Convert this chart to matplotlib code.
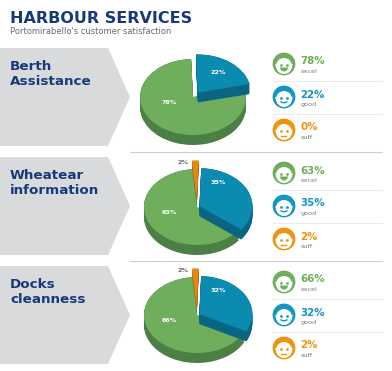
import matplotlib
matplotlib.use('Agg')
import matplotlib.pyplot as plt
from matplotlib.patches import Polygon, Circle, Arc, Wedge

W = 392
H = 371

# dados
topics = ['Berth\nAssistance', 'Wheatear\ninformation', 'Docks\ncleanness']
excel = [78, 63, 66]
good = [22, 35, 32]
suff = [0, 2, 2]
grades = ['excel', 'good', 'suff']

GREEN = '#6fae5c'
GREEN_D = '#4c7f45'
BLUE = '#0b8bb0'
BLUE_D = '#0a6582'
ORANGE = '#e48a12'
ORANGE_D = '#a8660e'
NAVY = '#17397c'
GRAY = '#d9dadc'
FACE_COL = [GREEN, '#1596c0', '#f0930f']
TXT_COL = ['#6fae5c', '#1596c0', '#ef9212']
FONT = 'DejaVu Sans'

fig = plt.figure(figsize=(W/100, H/100), dpi=100, facecolor='white')
bg = fig.add_axes([0, 0, 1, 1])
bg.set_xlim(0, W)
bg.set_ylim(H, 0)
bg.axis('off')

bg.text(10, 18.5, 'HARBOUR SERVICES', color=NAVY, fontsize=11.5, fontweight='bold',
        family=FONT, va='center', ha='left')
bg.text(10, 32, "Portomirabello's customer satisfaction", color='#666a70', fontsize=6.0,
        family=FONT, va='center', ha='left')

tops = [48, 157, 266]
pie_cy = [97, 207, 315]
pie_cx = [193, 197, 197]
pie_start = [92, 88, 88]
pie_expl = [[0.15, 0, 0], [0.05, 0, 0.22], [0.05, 0, 0.22]]


def draw_face(x, y, col, mouth):
    r = 10
    bg.add_patch(Circle((x, y), r, fc='white', ec=col, lw=2.0))
    # cabelo
    bg.add_patch(Wedge((x, y), r + 1, 180, 360, fc=col, ec='none'))
    bg.add_patch(Circle((x, y + 2), r - 2, fc='white', ec='none'))
    bg.plot([x - 3.2, x + 3.2], [y + 0.5, y + 0.5], ls='none', marker='o', ms=2, color=col, mew=0)
    if mouth == 0:
        bg.add_patch(Wedge((x, y + 3.5), 4, 0, 180, fc=col, ec='none'))
    elif mouth == 1:
        bg.add_patch(Arc((x, y + 3.2), 8, 5, theta1=20, theta2=160, color=col, lw=1.0))
    else:
        bg.plot([x - 2.5, x + 2.5], [y + 5.5, y + 5.5], color=col, lw=1.0)


def draw_pie(cx, cy, vals, expl, start):
    rx = 53
    ry = 38
    depth = 10
    m = 1.35
    ax = fig.add_axes([(cx - rx*m)/W, 1 - (cy + ry*m + depth)/H, 2*rx*m/W, (2*ry*m + depth)/H])
    cols = [BLUE, GREEN, ORANGE]
    dark = [BLUE_D, GREEN_D, ORANGE_D]
    z_side = [5, 1, 0]
    z_top = [6, 2, 7]
    d = depth/ry
    # azul, verde, laranja no sentido horario
    data = [vals[1], vals[0], vals[2]]
    # camadas escuras para dar a espessura
    for k in range(depth + 1):
        off = -d*(1 - k/depth)
        wedges, _ = ax.pie(data, colors=dark, explode=expl, startangle=start, counterclock=False,
                           center=(0, off), wedgeprops={'lw': 0})
        for w, z in zip(wedges, z_side):
            w.set_zorder(z)
    wedges, _ = ax.pie(data, colors=cols, explode=expl, startangle=start, counterclock=False,
                       center=(0, 0), wedgeprops={'lw': 0})
    for w, z in zip(wedges, z_top):
        w.set_zorder(z)
    ax.set_aspect('auto')
    ax.set_xlim(-m, m)
    ax.set_ylim(-m - d, m)
    return ax


for i, top in enumerate(tops):
    bg.add_patch(Polygon([(0, top), (108, top), (130, top + 49), (108, top + 98), (0, top + 98)],
                         fc=GRAY, ec='none'))
    bg.text(10, top + 26, topics[i], color=NAVY, fontsize=9.7, fontweight='bold',
            family=FONT, va='center', ha='left', linespacing=1.12)

    vals = [excel[i], good[i], suff[i]]
    draw_pie(pie_cx[i], pie_cy[i], vals, pie_expl[i], pie_start[i])

    # rotulos em pixels
    bg.set_zorder(5)
    bg.patch.set_alpha(0)
    bg.text(218, pie_cy[i] - 24, '%d%%' % good[i], color='white', fontsize=4.6, family=FONT,
            fontweight='bold', ha='center', va='center')
    bg.text(169.5, pie_cy[i] + 5.5, '%d%%' % excel[i], color='white', fontsize=4.6, family=FONT,
            fontweight='bold', ha='center', va='center')
    if suff[i] > 0:
        bg.text(183, pie_cy[i] - 44, '%d%%' % suff[i], color='#666a70', fontsize=4.6,
                family=FONT, fontweight='bold', ha='center', va='center')

    # rostos
    fy = [top + 16, top + 49, top + 82]
    for j, v in enumerate(vals):
        draw_face(284, fy[j], FACE_COL[j], j)
        bg.text(300.5, fy[j] - 2.5, '%d%%' % v, color=TXT_COL[j], fontsize=7.4, fontweight='bold',
                family=FONT, va='center', ha='left')
        bg.text(301, fy[j] + 7.5, grades[j], color='#777b80', fontsize=4.6,
                family=FONT, va='center', ha='left')
        if j < 2:
            sep = (fy[j] + fy[j + 1])/2
            bg.plot([273, 382], [sep, sep], color='#ececec', lw=0.7)
    if i < 2:
        sep = tops[i + 1] - 5
        bg.plot([130, 382], [sep, sep], color='#cfcfcf', lw=0.8)

fig.savefig('out.png', dpi=100)
